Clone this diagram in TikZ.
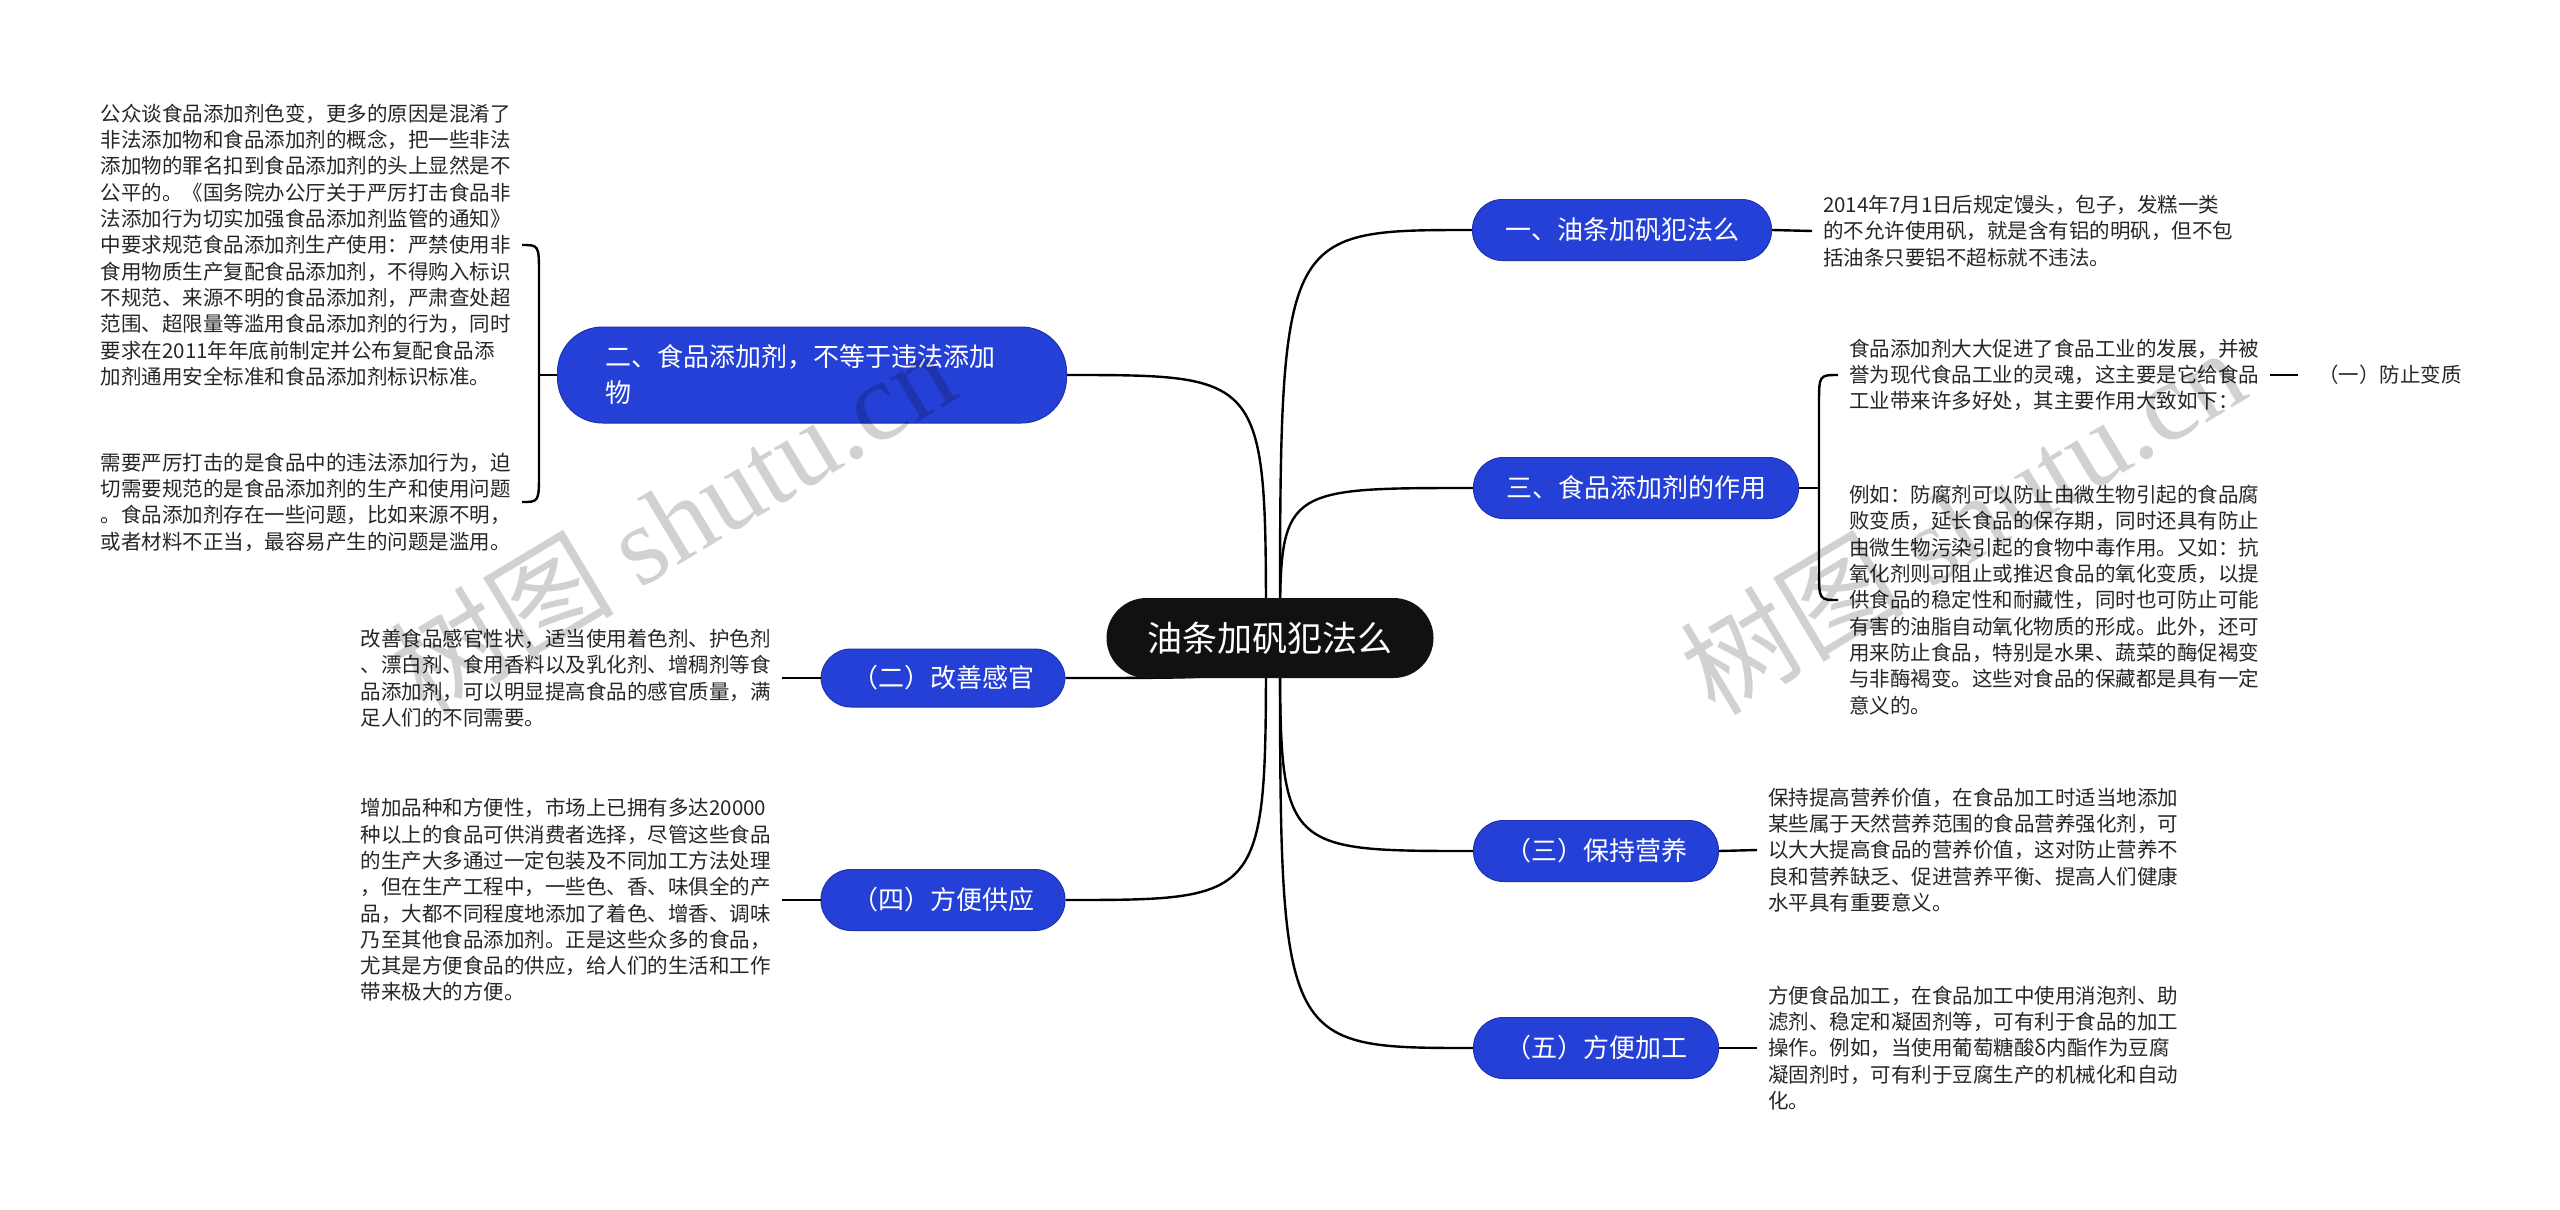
\documentclass[tikz,border=0pt]{standalone}
\usepackage{fontspec}
\setmainfont{Noto Sans CJK SC}
\newfontfamily\wmserif{Liberation Serif}
\usetikzlibrary{positioning,calc,backgrounds}
\definecolor{mapblue}{RGB}{37,64,214}
\definecolor{mapblack}{RGB}{17,17,17}

\begin{document}
\begin{tikzpicture}[x=1pt,y=-1pt,
    rootbox/.style={fill=mapblack,text=white,rounded corners=40pt,minimum width=327pt,
        minimum height=80pt,font=\fontsize{35}{40}\selectfont},
    branch/.style={fill=mapblue,draw=mapblue!80!black,line width=1pt,text=white,
        rounded corners=30pt,minimum height=61pt,inner xsep=30pt,font=\fontsize{26}{36}\selectfont},
    leaf/.style={inner xsep=11pt,inner ysep=0pt,align=left,text=black!85,
        font=\fontsize{20.5}{26.3}\selectfont},
    link/.style={line width=2.4pt,black},
    wmark/.style={text=black,opacity=0.18,font=\fontsize{112}{112}\selectfont}]
    \useasboundingbox (0,0) rectangle (2560,1210);

    % draw the root and the branches
    \node[rootbox] (root) at (1270,638) {油条加矾犯法么};
    \node[branch,minimum width=299pt] (b1) at (1622,230) {一、油条加矾犯法么};
    \node[branch,minimum width=325pt] (b3) at (1636,488) {三、食品添加剂的作用};
    \node[branch,minimum width=245pt] (c3) at (1596,851) {（三）保持营养};
    \node[branch,minimum width=245pt] (c5) at (1596,1048) {（五）方便加工};
    \node[branch,minimum height=96pt,rounded corners=45pt,inner xsep=48pt,
        text width=413pt,align=left] (b2) at (812,375) {二、食品添加剂，不等于违法添加\\物};
    \node[branch,minimum width=244pt,minimum height=58pt] (c2) at (943,678) {（二）改善感官};
    \node[branch,minimum width=244pt] (c4) at (943,900) {（四）方便供应};

    % draw the texts on the left
    \node[leaf,anchor=east] (l2a) at (522,245) {公众谈食品添加剂色变，更多的原因是混淆了\\
        非法添加物和食品添加剂的概念，把一些非法\\
        添加物的罪名扣到食品添加剂的头上显然是不\\
        公平的。《国务院办公厅关于严厉打击食品非\\
        法添加行为切实加强食品添加剂监管的通知》\\
        中要求规范食品添加剂生产使用：严禁使用非\\
        食用物质生产复配食品添加剂，不得购入标识\\
        不规范、来源不明的食品添加剂，严肃查处超\\
        范围、超限量等滥用食品添加剂的行为，同时\\
        要求在2011年年底前制定并公布复配食品添\\
        加剂通用安全标准和食品添加剂标识标准。};
    \node[leaf,anchor=east] (l2b) at (522,502) {需要严厉打击的是食品中的违法添加行为，迫\\
        切需要规范的是食品添加剂的生产和使用问题\\
        。食品添加剂存在一些问题，比如来源不明，\\
        或者材料不正当，最容易产生的问题是滥用。};
    \node[leaf,anchor=east] (lc2) at (782,678) {改善食品感官性状，适当使用着色剂、护色剂\\
        、漂白剂、食用香料以及乳化剂、增稠剂等食\\
        品添加剂，可以明显提高食品的感官质量，满\\
        足人们的不同需要。};
    \node[leaf,anchor=east] (lc4) at (782,900) {增加品种和方便性，市场上已拥有多达20000\\
        种以上的食品可供消费者选择，尽管这些食品\\
        的生产大多通过一定包装及不同加工方法处理\\
        ，但在生产工程中，一些色、香、味俱全的产\\
        品，大都不同程度地添加了着色、增香、调味\\
        乃至其他食品添加剂。正是这些众多的食品，\\
        尤其是方便食品的供应，给人们的生活和工作\\
        带来极大的方便。};

    % draw the texts on the right
    \node[leaf,anchor=west] (l1) at (1812,231) {2014年7月1日后规定馒头，包子，发糕一类\\
        的不允许使用矾，就是含有铝的明矾，但不包\\
        括油条只要铝不超标就不违法。};
    \node[leaf,anchor=west] (l3a) at (1838,375) {食品添加剂大大促进了食品工业的发展，并被\\
        誉为现代食品工业的灵魂，这主要是它给食品\\
        工业带来许多好处，其主要作用大致如下：};
    \node[leaf,anchor=west,inner xsep=20pt] (l3c) at (2298,375) {（一）防止变质};
    \node[leaf,anchor=west] (l3b) at (1838,600) {例如：防腐剂可以防止由微生物引起的食品腐\\
        败变质，延长食品的保存期，同时还具有防止\\
        由微生物污染引起的食物中毒作用。又如：抗\\
        氧化剂则可阻止或推迟食品的氧化变质，以提\\
        供食品的稳定性和耐藏性，同时也可防止可能\\
        有害的油脂自动氧化物质的形成。此外，还可\\
        用来防止食品，特别是水果、蔬菜的酶促褐变\\
        与非酶褐变。这些对食品的保藏都是具有一定\\
        意义的。};
    \node[leaf,anchor=west] (lc3) at (1757,850) {保持提高营养价值，在食品加工时适当地添加\\
        某些属于天然营养范围的食品营养强化剂，可\\
        以大大提高食品的营养价值，这对防止营养不\\
        良和营养缺乏、促进营养平衡、提高人们健康\\
        水平具有重要意义。};
    \node[leaf,anchor=west] (lc5) at (1757,1048) {方便食品加工，在食品加工中使用消泡剂、助\\
        滤剂、稳定和凝固剂等，可有利于食品的加工\\
        操作。例如，当使用葡萄糖酸δ内酯作为豆腐\\
        凝固剂时，可有利于豆腐生产的机械化和自动\\
        化。};

    % draw the links from the root
    \coordinate (rootR) at ($(root.center)+(10,0)$);
    \coordinate (rootL) at ($(root.center)+(-4,0)$);
    \begin{pgfonlayer}{background}
        \foreach \b in {b1,b3,c3,c5}
            \draw[link] (rootR) .. controls (rootR |- \b.west) .. (\b.west);
        \foreach \b in {b2,c2,c4}
            \draw[link] (rootL) .. controls (rootL |- \b.east) .. (\b.east);
    \end{pgfonlayer}

    % draw the leaf links
    \draw[link] (b1.east) -- (l1.west);
    \draw[link] (c3.east) -- (lc3.west);
    \draw[link] (c5.east) -- (lc5.west);
    \draw[link] (c2.west) -- (lc2.east);
    \draw[link] (c4.west) -- (lc4.east);
    \draw[link] (l3a.east) -- (l3c.west);

    % draw the brackets
    \coordinate (k2) at ($(b2.west)+(-18,0)$);
    \draw[link] (b2.west) -- (k2);
    \draw[link] (k2) -- ($(k2 |- l2a.east)+(0,30)$) .. controls (k2 |- l2a.east) .. (l2a.east);
    \draw[link] (k2) -- ($(k2 |- l2b.east)+(0,-30)$) .. controls (k2 |- l2b.east) .. (l2b.east);
    \coordinate (k3) at ($(b3.east)+(20,0)$);
    \draw[link] (b3.east) -- (k3);
    \draw[link] (k3) -- ($(k3 |- l3a.west)+(0,30)$) .. controls (k3 |- l3a.west) .. (l3a.west);
    \draw[link] (k3) -- ($(k3 |- l3b.west)+(0,-30)$) .. controls (k3 |- l3b.west) .. (l3b.west);

    % draw the watermarks
    \node[wmark,rotate=31] (wm1) at (672,520) {树图 {\wmserif shutu.cn}};
    \node[wmark,rotate=31] (wm2) at (1962,520) {树图 {\wmserif shutu.cn}};
\end{tikzpicture}
\end{document}
